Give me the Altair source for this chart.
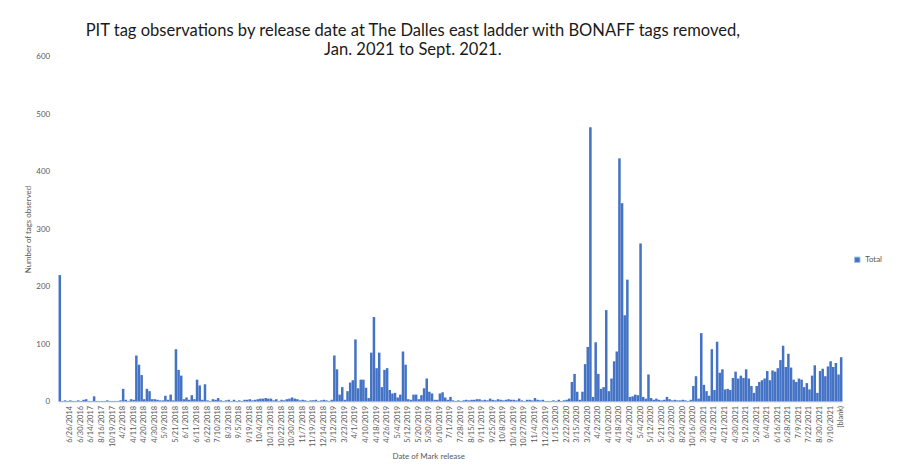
import altair as alt
import pandas as pd

# Category-axis tick labels (Excel shows every 4th release date)
tick_labels = [
    "6/26/2014", "6/30/2016", "6/14/2017", "8/16/2017", "10/19/2017", "4/2/2018",
    "4/11/2018", "4/20/2018", "4/30/2018", "5/9/2018", "5/21/2018", "6/1/2018",
    "6/11/2018", "6/22/2018", "7/10/2018", "8/3/2018", "9/5/2018", "9/19/2018",
    "10/4/2018", "10/13/2018", "10/22/2018", "10/30/2018", "11/7/2018", "11/19/2018",
    "12/14/2018", "3/12/2019", "3/23/2019", "4/1/2019", "4/10/2019", "4/18/2019",
    "4/26/2019", "5/4/2019", "5/12/2019", "5/20/2019", "5/30/2019", "6/10/2019",
    "7/1/2019", "7/28/2019", "8/15/2019", "9/11/2019", "9/25/2019", "10/8/2019",
    "10/16/2019", "10/27/2019", "11/4/2019", "11/23/2019", "1/15/2020", "2/22/2020",
    "3/15/2020", "3/24/2020", "4/2/2020", "4/10/2020", "4/18/2020", "4/26/2020",
    "5/4/2020", "5/12/2020", "5/21/2020", "6/23/2020", "8/24/2020", "10/16/2020",
    "3/30/2021", "4/12/2021", "4/21/2021", "4/30/2021", "5/12/2021", "5/24/2021",
    "6/4/2021", "6/16/2021", "6/28/2021", "7/9/2021", "7/22/2021", "8/30/2021",
    "9/10/2021", "(blank)",
]

# Tag counts per release date, in axis order
counts_2014_2017 = [220, 1, 2, 1, 2, 1, 1, 2, 1, 3, 4, 1, 1, 9, 1, 1, 1, 1, 2, 1, 1, 1, 1, 2]
counts_spring_2018 = [22, 3, 1, 4, 3, 80, 64, 46, 4, 22, 18, 4, 4, 3, 2, 2, 10, 3, 12, 2,
                      91, 55, 45, 4, 7, 3, 11, 4, 38, 28, 3, 30]
counts_late_2018 = [2, 1, 4, 3, 6, 2, 1, 2, 3, 1, 3, 1, 2, 1, 3, 3,
                    4, 2, 3, 4, 5, 5, 6, 5, 5, 2, 4, 1, 3, 2, 4, 5,
                    7, 5, 4, 2, 3, 2, 1, 2, 2, 3, 1, 2, 3, 2, 1, 3]
counts_spring_2019 = [80, 56, 12, 25, 3, 18, 33, 37, 108, 23, 38, 38, 24, 6, 85,
                      147, 58, 85, 25, 55, 58, 20, 14, 15, 7, 12, 87, 64, 4, 3,
                      12, 12, 4, 11, 23, 40, 17, 14, 3, 3, 14, 16, 7, 3, 8]
counts_late_2019 = [2, 1, 2, 1, 2, 3, 2, 3, 3, 4, 4, 2, 3, 2, 5, 3, 2, 4,
                    3, 2, 3, 4, 3, 3, 2, 5, 2, 1, 3, 3, 2, 6, 3, 2, 3, 1,
                    1, 1, 2, 1, 3, 1, 2, 3, 5]
counts_2020 = [34, 48, 17, 3, 17, 65, 95, 477, 8, 103, 48, 22, 25, 159, 18, 40, 70, 87,
               423, 345, 150, 212, 8, 9, 12, 11, 275, 8, 5, 47, 6, 3, 5, 3, 2, 3, 8, 4,
               2, 3, 2, 2, 3, 2, 1, 3]
counts_early_2021 = [27, 44, 5, 119, 29, 18, 10, 91, 20, 104]
counts_late_2021 = [50, 56, 21, 22, 20, 41, 52, 40, 45, 41, 56, 40, 27, 15, 27, 34, 37,
                    40, 53, 37, 54, 52, 58, 72, 97, 60, 83, 59, 38, 34, 40, 38, 25, 32,
                    21, 45, 63, 15, 53, 57, 44, 61, 70, 60, 67, 47, 77]

counts = (counts_2014_2017 + counts_spring_2018 + counts_late_2018 + counts_spring_2019
          + counts_late_2019 + counts_2020 + counts_early_2021 + counts_late_2021)

LABEL_EVERY = 4
release = []
for i in range(len(counts)):
    if i >= LABEL_EVERY and (i - LABEL_EVERY) % LABEL_EVERY == 0:
        release.append(tick_labels[(i - LABEL_EVERY) // LABEL_EVERY])
    else:
        release.append(f"r{i}")

df = pd.DataFrame({"release": release, "count": counts, "series": "Total"})

FONT = "Lato"
GREY = "#595959"

chart = alt.Chart(df).mark_bar().encode(
    x=alt.X(
        "release:N",
        sort=None,
        scale=alt.Scale(paddingInner=0.05, paddingOuter=0),
        axis=alt.Axis(
            values=tick_labels,
            labelAngle=270,
            labelFontSize=7.5,
            labelColor=GREY,
            labelFont=FONT,
            labelPadding=4,
            labelOverlap=False,
            ticks=False,
            domainColor="#D9D9D9",
            title="Date of Mark release",
            titleFont=FONT,
            titleFontSize=8,
            titleFontWeight="normal",
            titleColor=GREY,
            titlePadding=6,
            titleX=373,
        ),
    ),
    y=alt.Y(
        "count:Q",
        scale=alt.Scale(domain=[0, 600]),
        axis=alt.Axis(
            values=[0, 100, 200, 300, 400, 500, 600],
            grid=False,
            domain=False,
            ticks=False,
            labelFontSize=8,
            labelColor=GREY,
            labelFont=FONT,
            labelPadding=9,
            title="Number of tags observed",
            titleFont=FONT,
            titleFontSize=8,
            titleFontWeight="normal",
            titleColor=GREY,
            titlePadding=3,
        ),
    ),
    color=alt.Color(
        "series:N",
        scale=alt.Scale(range=["#4472C4"]),
        legend=alt.Legend(
            title=None,
            orient="none",
            legendX=802,
            legendY=201,
            symbolType="square",
            symbolSize=30,
            symbolStrokeColor="#9DC3E6",
            symbolStrokeWidth=1,
            labelFont=FONT,
            labelFontSize=8,
            labelColor=GREY,
            padding=0,
        ),
    ),
).properties(
    width=791,
    height=348,
    title=alt.TitleParams(
        text=["PIT tag observations by release date at The Dalles east ladder with BONAFF tags removed,",
              "Jan. 2021 to Sept. 2021."],
        font=FONT,
        fontSize=16.7,
        fontWeight="normal",
        color="#1a1a1a",
        anchor="middle",
        dx=-38,
        dy=9,
        offset=3,
        lineHeight=19,
    ),
    autosize=alt.AutoSizeParams(type="none"),
    padding={"left": 51, "top": 47, "right": 48, "bottom": 62},
).configure_view(stroke=None)

chart.save("out.html", embed_options={"renderer": "svg", "actions": False})
